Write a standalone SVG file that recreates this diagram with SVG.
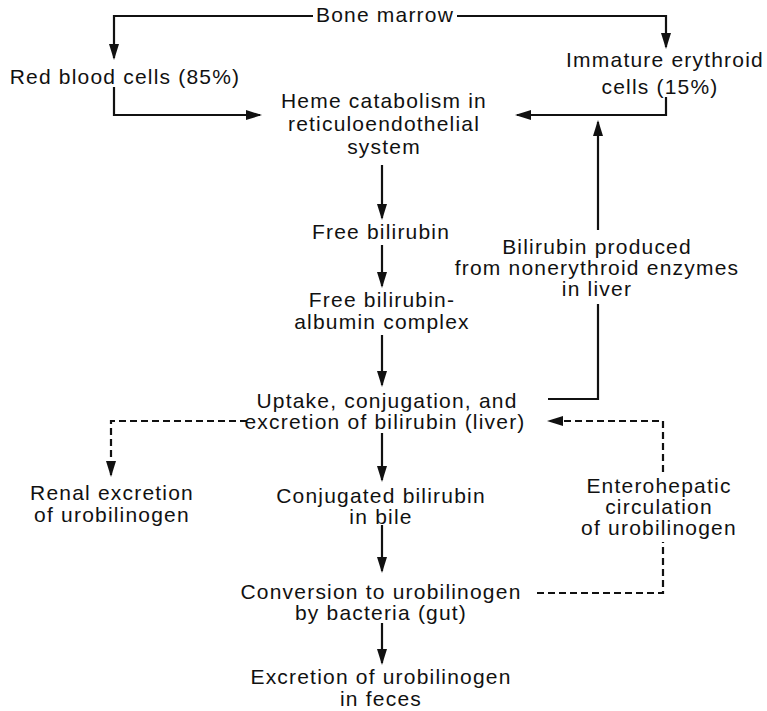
<svg xmlns="http://www.w3.org/2000/svg" width="767" height="711" viewBox="0 0 767 711">
<defs>
<style>
text{font-family:"Liberation Sans",Arial,sans-serif;font-size:21px;letter-spacing:1.2px;fill:#111;text-anchor:middle}
.ln{fill:none;stroke:#111;stroke-width:2.2}
.ds{fill:none;stroke:#111;stroke-width:2.2;stroke-dasharray:7 4}
</style>
<marker id="ah" viewBox="0 0 16 10" refX="14" refY="5" markerWidth="16" markerHeight="10" markerUnits="userSpaceOnUse" orient="auto">
<path d="M0,0 L16,5 L0,10 z" fill="#111"/>
</marker>
</defs>
<rect width="767" height="711" fill="#fff"/>
<g id="connectors">
<path class="ln" d="M313,16 H114 V58" marker-end="url(#ah)"/>
<path class="ln" d="M457,16 H666 V47" marker-end="url(#ah)"/>
<path class="ln" d="M114,87 V115 H260" marker-end="url(#ah)"/>
<path class="ln" d="M666,97 V115 H517" marker-end="url(#ah)"/>
<path class="ln" d="M548,399 H598 V304"/>
<path class="ln" d="M598,230 V122" marker-end="url(#ah)"/>
<path class="ln" d="M382,165 V218" marker-end="url(#ah)"/>
<path class="ln" d="M382,245 V286" marker-end="url(#ah)"/>
<path class="ln" d="M382,335 V385" marker-end="url(#ah)"/>
<path class="ln" d="M382,433 V480" marker-end="url(#ah)"/>
<path class="ln" d="M382,525 V571" marker-end="url(#ah)"/>
<path class="ln" d="M382,623 V663" marker-end="url(#ah)"/>
<path class="ds" d="M247,421 H111 V475" marker-end="url(#ah)"/>
<path class="ds" d="M537,593 H663 V542"/>
<path class="ds" d="M663,472 V421 H549" marker-end="url(#ah)"/>
</g>
<g id="bone-marrow"><text x="385" y="22">Bone marrow</text></g>
<g id="red-blood-cells"><text x="125" y="84">Red blood cells (85%)</text></g>
<g id="immature-erythroid"><text x="665" y="67">Immature erythroid</text><text x="660" y="94">cells (15%)</text></g>
<g id="heme-catabolism"><text x="384" y="108">Heme catabolism in</text><text x="384" y="131">reticuloendothelial</text><text x="384" y="154">system</text></g>
<g id="free-bilirubin"><text x="381" y="239">Free bilirubin</text></g>
<g id="bilirubin-albumin"><text x="382" y="307">Free bilirubin-</text><text x="382" y="329">albumin complex</text></g>
<g id="nonerythroid"><text x="597" y="254">Bilirubin produced</text><text x="597" y="275">from nonerythroid enzymes</text><text x="597" y="296">in liver</text></g>
<g id="uptake"><text x="387" y="408">Uptake, conjugation, and</text><text x="385" y="429">excretion of bilirubin (liver)</text></g>
<g id="renal"><text x="112" y="500">Renal excretion</text><text x="112" y="522">of urobilinogen</text></g>
<g id="conjugated"><text x="381" y="503">Conjugated bilirubin</text><text x="381" y="524">in bile</text></g>
<g id="enterohepatic"><text x="659" y="493">Enterohepatic</text><text x="659" y="514">circulation</text><text x="659" y="535">of urobilinogen</text></g>
<g id="conversion"><text x="381" y="599">Conversion to urobilinogen</text><text x="381" y="620">by bacteria (gut)</text></g>
<g id="excretion-feces"><text x="381" y="684">Excretion of urobilinogen</text><text x="381" y="706">in feces</text></g>
</svg>
